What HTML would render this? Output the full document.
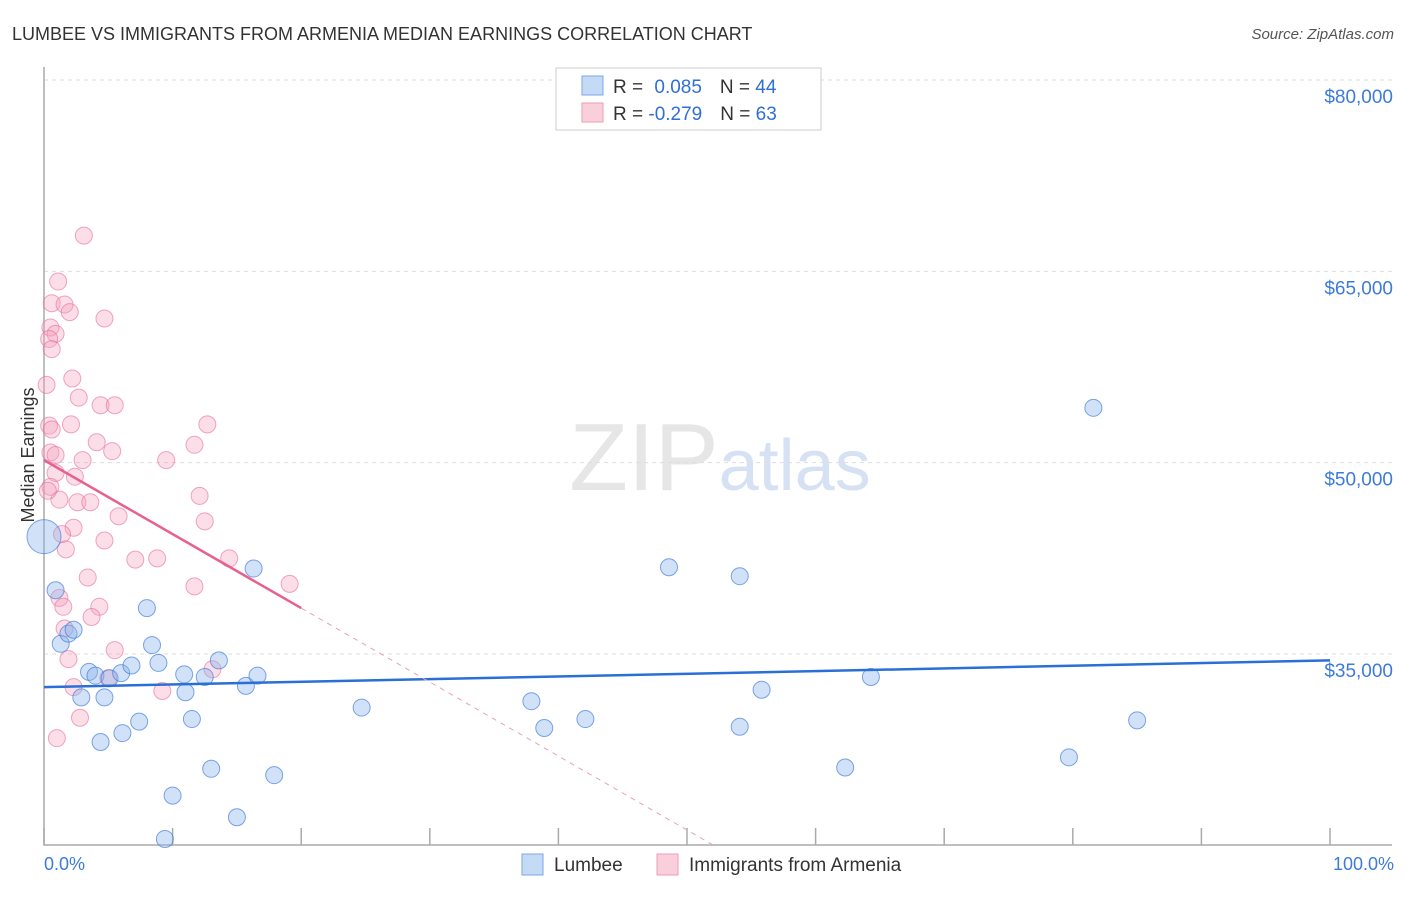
<!DOCTYPE html>
<html><head><meta charset="utf-8"><style>
body{margin:0;background:#fff;font-family:"Liberation Sans",sans-serif;}
svg text{font-family:"Liberation Sans",sans-serif;}
</style></head><body>
<svg width="1406" height="892" id="chart">
<text x="12" y="40" font-size="18" fill="#333">LUMBEE VS IMMIGRANTS FROM ARMENIA MEDIAN EARNINGS CORRELATION CHART</text>
<text x="1394" y="39" font-size="15" fill="#555" font-style="italic" text-anchor="end">Source: ZipAtlas.com</text>
<text x="720" y="490" font-size="96" fill="#e6e6e6" text-anchor="middle" font-family="Liberation Serif">ZIP<tspan fill="#d6e2f4" font-family="Liberation Sans" font-size="72">atlas</tspan></text>
<g id="grid"></g>
<g id="axes"></g>
<g id="points"></g>
<g id="lines"></g>
<text transform="translate(34,455) rotate(-90)" font-size="18" fill="#333" text-anchor="middle">Median Earnings</text>
<text x="44" y="870" font-size="18" fill="#3d7bd9">0.0%</text>
<text x="1394" y="870" font-size="18" fill="#3d7bd9" text-anchor="end">100.0%</text>
<g>
<rect x="556" y="68" width="265" height="62" fill="#fff" stroke="#ccc"/>
<rect x="582" y="76" width="21" height="19" fill="#c5daf5" stroke="#7aa7e6"/>
<rect x="582" y="103" width="21" height="19" fill="#f9cfdc" stroke="#ee9bb5"/>
<text x="613" y="93" font-size="19" fill="#333">R = <tspan fill="#2f6fd6" dx="6">0.085</tspan><tspan dx="18" fill="#333">N = </tspan><tspan fill="#2f6fd6">44</tspan></text>
<text x="613" y="120" font-size="19" fill="#333">R = <tspan fill="#2f6fd6">-0.279</tspan><tspan dx="18" fill="#333">N = </tspan><tspan fill="#2f6fd6">63</tspan></text>
</g>
<g>
<rect x="522" y="854" width="21" height="21" fill="#c5daf5" stroke="#7aa7e6"/>
<text x="554" y="871" font-size="19" fill="#333">Lumbee</text>
<rect x="657" y="854" width="21" height="21" fill="#f9cfdc" stroke="#ee9bb5"/>
<text x="689" y="871" font-size="19" fill="#333">Immigrants from Armenia</text>
</g>
</svg>
<script>
const yTicks=[35000,50000,65000,80000];
const yTickLabels=["$35,000","$50,000","$65,000","$80,000"];
const xTicks=[0,10,20,30,40,50,60,70,80,90,100];
const lumbeeX=[0.0,0.9,1.3,1.9,2.3,3.5,4.0,2.9,4.7,4.4,6.1,5.1,6.0,6.8,7.4,8.0,8.4,8.9,9.4,10.0,10.9,11.0,11.5,12.5,13.0,13.6,15.0,15.7,16.3,16.6,17.9,24.7,37.9,38.9,42.1,48.6,54.1,54.1,55.8,62.3,64.3,79.7,81.6,85.0];
const lumbeeY=[44200,40000,35800,36600,36900,33600,33300,31600,31600,28100,28800,33100,33500,34100,29700,38600,35700,34300,20500,23900,33400,32000,29900,33200,26000,34500,22200,32500,41700,33300,25500,30800,31300,29200,29900,41800,41100,29300,32200,26100,33200,26900,54300,29800];
const armeniaX=[3.1,1.1,0.6,1.6,2.0,4.7,0.5,0.9,0.4,0.6,0.2,2.2,2.7,4.4,5.5,0.4,0.6,2.1,12.7,4.1,11.7,5.3,0.5,0.9,3.0,9.5,0.9,2.4,0.5,1.2,2.6,3.6,12.1,5.8,12.5,2.3,4.7,1.4,1.7,7.1,8.8,14.4,3.4,11.7,19.1,1.2,1.5,4.3,3.7,1.6,5.5,1.9,13.1,5.0,2.3,9.2,2.8,1.0,0.3];
const armeniaY=[67800,64200,62500,62400,61800,61300,60600,60100,59700,58900,56100,56600,55100,54500,54500,52900,52600,53000,53000,51600,51400,50900,50800,50600,50200,50200,49200,48900,48100,47100,46900,46900,47400,45800,45400,44900,43900,44400,43200,42400,42500,42500,41000,40300,40500,39400,38700,38700,37900,37000,35300,34600,33800,33100,32400,32100,30000,28400,47800];
const lumbeeFit=[32400,34500];
const armeniaFit=[50200,38600];
const L=44,R=1330,T=80,B=845;
const ns="http://www.w3.org/2000/svg";
function sx(p){return L+(R-L)*p/100;}
function sy(v){return 654-(v-35000)*(654-T)/45000;}
function mk(tag,attrs,parent){const e=document.createElementNS(ns,tag);for(const k in attrs)e.setAttribute(k,attrs[k]);parent.appendChild(e);return e;}
const grid=document.getElementById('grid'),axes=document.getElementById('axes'),pts=document.getElementById('points'),lines=document.getElementById('lines');
yTicks.forEach((v,i)=>{
 const g=mk('line',{x1:L,x2:1392,y1:sy(v),y2:sy(v),stroke:'#ddd','stroke-dasharray':'4,4'},grid);
 
 
 const t=mk('text',{x:1393,y:sy(v)+23,'font-size':19,fill:'#3d7bd9','text-anchor':'end'},grid);
 t.textContent=yTickLabels[i];
 
 
});
const ax=mk('path',{d:`M${L},67V${B}H1392`,stroke:'#aaa',fill:'none','stroke-width':1.5},axes);


xTicks.forEach(p=>{
 const t=mk('line',{x1:sx(p),x2:sx(p),y1:828,y2:B,stroke:'#aaa','stroke-width':1.5},axes);
 
 
});
armeniaX.forEach((x,i)=>{
 const c=mk('circle',{cx:sx(x),cy:sy(armeniaY[i]),r:8.5,fill:'rgba(244,160,190,0.35)',stroke:'rgba(232,110,150,0.6)','stroke-width':1},pts);
 
 
});
lumbeeX.forEach((x,i)=>{
 const c=mk('circle',{cx:sx(x),cy:sy(lumbeeY[i]),r:i===0?17:8.5,fill:'rgba(140,180,235,0.4)',stroke:'rgba(60,120,215,0.65)','stroke-width':1},pts);
 
 
});
const lb=mk('line',{x1:sx(0),y1:sy(lumbeeFit[0]),x2:sx(100),y2:sy(lumbeeFit[1]),stroke:'#2a6fd6','stroke-width':2.5},lines);


const slope=(armeniaFit[1]-armeniaFit[0])/20;
const ap=mk('line',{x1:sx(0),y1:sy(armeniaFit[0]),x2:sx(20),y2:sy(armeniaFit[1]),stroke:'#e8608e','stroke-width':2.5},lines);


const xEnd=(20000-armeniaFit[0])/slope;
const ad=mk('line',{x1:sx(20),y1:sy(armeniaFit[1]),x2:sx(xEnd),y2:sy(20000),stroke:'#e8a0b8','stroke-width':1,'stroke-dasharray':'5,5'},lines);


</script>
</body></html>
